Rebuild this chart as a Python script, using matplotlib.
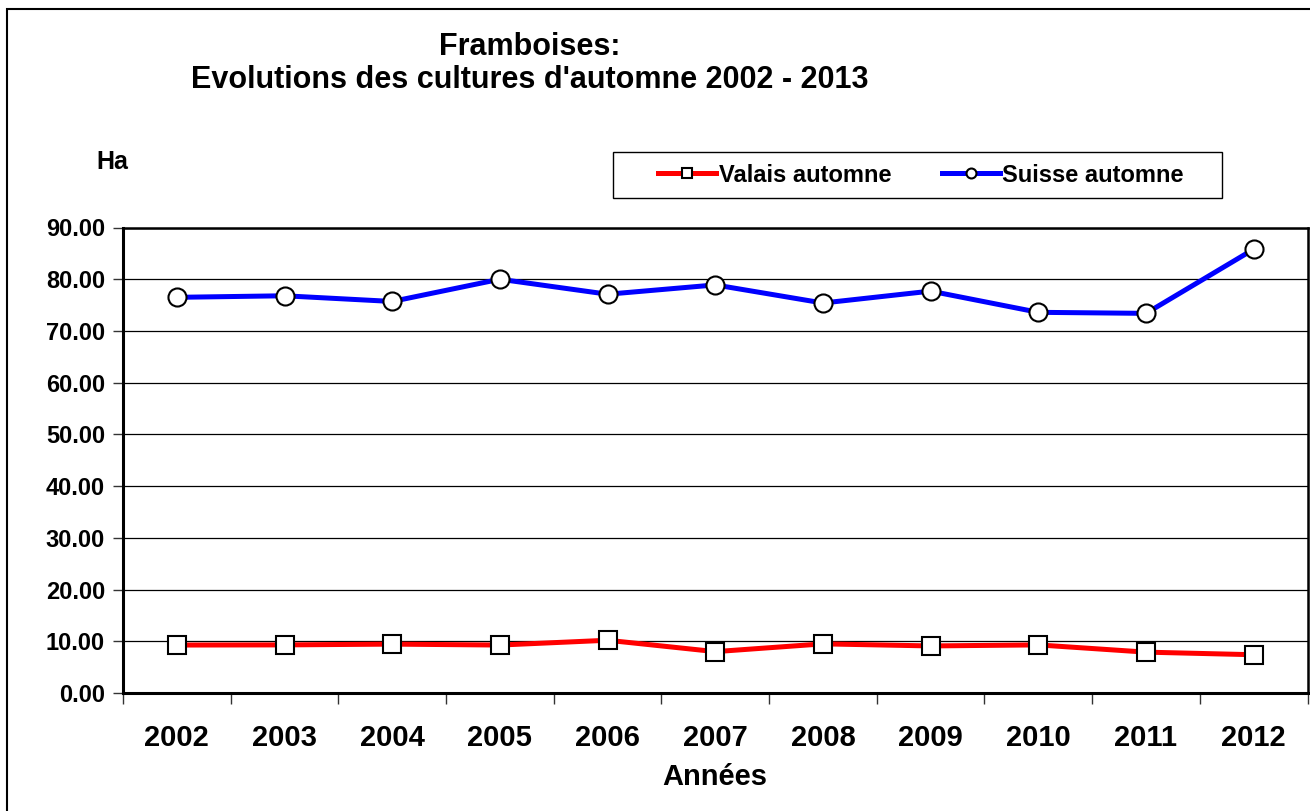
import matplotlib
matplotlib.use("Agg")
import matplotlib.pyplot as plt
from matplotlib.patches import Rectangle

plt.rcParams['font.family'] = ['Liberation Sans', 'DejaVu Sans']
plt.rcParams['font.weight'] = 'bold'

years = ['2002', '2003', '2004', '2005', '2006', '2007', '2008', '2009', '2010', '2011', '2012']
valais = [9.27, 9.3, 9.45, 9.27, 10.2, 8.0, 9.5, 9.1, 9.3, 7.9, 7.4]
suisse = [76.5, 76.8, 75.7, 80.0, 77.1, 78.9, 75.4, 77.7, 73.6, 73.4, 85.8]
yticks = [0, 10, 20, 30, 40, 50, 60, 70, 80, 90]

W, H = 1310, 811
fig = plt.figure(figsize=(W / 100, H / 100), dpi=100)

# outer frame
fig.patches.append(Rectangle((7 / W, -0.05), 1.2, (811 - 9) / H + 0.05,
                             transform=fig.transFigure, fill=False,
                             edgecolor='black', linewidth=1.5))
# legend frame
fig.patches.append(Rectangle((613 / W, 1 - 198 / H), (1222 - 613) / W, 46 / H,
                             transform=fig.transFigure, fill=False,
                             edgecolor='black', linewidth=1.0))

ax = fig.add_axes([123 / W, (H - 693) / H, (1307.5 - 123) / W, (693 - 227.5) / H])
x = list(range(len(years)))

ax.plot(x, valais, color='#ff0000', lw=3.6, marker='s', markersize=12.5,
        markerfacecolor='white', markeredgecolor='black', markeredgewidth=1.5,
        label='Valais automne', zorder=3)
ax.plot(x, suisse, color='#0000ff', lw=3.6, marker='o', markersize=13,
        markerfacecolor='white', markeredgecolor='black', markeredgewidth=1.5,
        label='Suisse automne', zorder=3)

ax.set_xlim(-0.5, len(years) - 0.5)
ax.set_ylim(0, 90)
ax.set_yticks(yticks)
ax.set_yticklabels([f'{v:.2f}' for v in yticks], fontsize=17, fontweight='bold')
ax.yaxis.grid(True, color='black', linewidth=0.9)
ax.set_axisbelow(True)

ax.set_xticks([i - 0.5 for i in range(len(years) + 1)])
ax.set_xticklabels([])
ax.set_xticks(x, minor=True)
ax.set_xticklabels(years, minor=True, fontsize=21, fontweight='bold')
ax.tick_params(axis='x', which='major', length=8, width=1, direction='out', color='#333333')
ax.tick_params(axis='x', which='minor', length=0, pad=22)
ax.tick_params(axis='y', length=7, width=1, direction='out', pad=6, color='#333333')

for s in ['left', 'bottom']:
    ax.spines[s].set_linewidth(2.2)
for s in ['top', 'right']:
    ax.spines[s].set_linewidth(1.8)

ax.set_xlabel('Années', fontsize=21, fontweight='bold', labelpad=8)

fig.text(530 / W, 1 - 47 / H, 'Framboises:', ha='center', va='center',
         fontsize=22, fontweight='bold')
fig.text(530 / W, 1 - 80 / H, "Evolutions des cultures d'automne 2002 - 2013",
         ha='center', va='center', fontsize=22, fontweight='bold')
fig.text(112 / W, 1 - 162 / H, 'Ha', ha='center', va='center',
         fontsize=18, fontweight='bold')

leg = fig.legend(loc='center', bbox_to_anchor=(921 / W, 1 - 175 / H),
                 ncol=2, frameon=False,
                 prop={'size': 17, 'weight': 'bold'}, handlelength=2.45,
                 handletextpad=0.1, columnspacing=2.15, markerscale=0.55,
                 borderpad=0.3)

fig.savefig('out.png', dpi=100)
